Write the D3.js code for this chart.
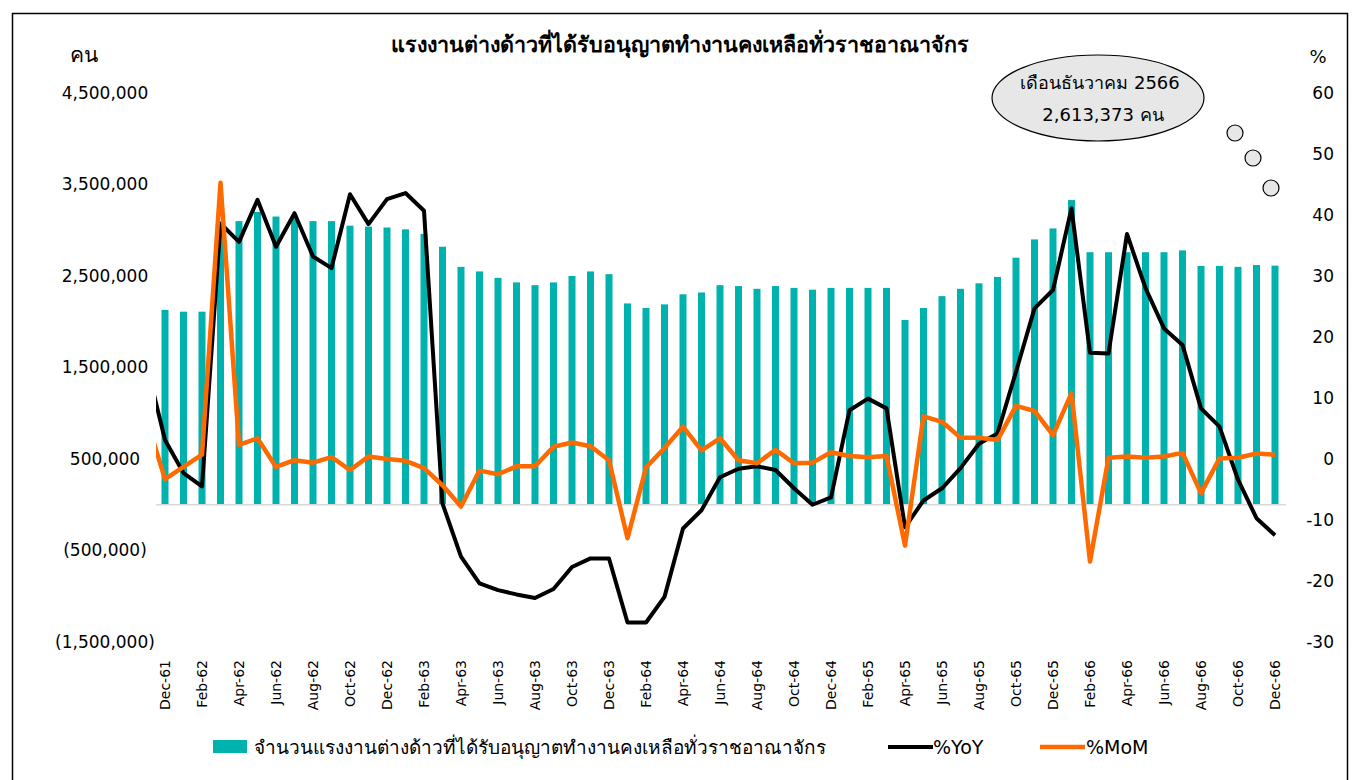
<!DOCTYPE html>
<html>
<head>
<meta charset="utf-8">
<script src="https://cdn.jsdelivr.net/npm/d3@7/dist/d3.min.js"></script>
<style>
  body { margin: 0; background: #fff; }
  text { font-family: Tahoma, "DejaVu Sans", "Noto Sans", sans-serif; fill: #000; }
</style>
</head>
<body>
<svg id="chart" width="1359" height="780"></svg>
<script>
// months Nov-61 .. Dec-66 (Nov-61 sits just outside the plot and is clipped)
var months = ["Nov-61","Dec-61","Jan-62","Feb-62","Mar-62","Apr-62","May-62","Jun-62","Jul-62","Aug-62","Sep-62","Oct-62","Nov-62",
  "Dec-62","Jan-63","Feb-63","Mar-63","Apr-63","May-63","Jun-63","Jul-63","Aug-63","Sep-63","Oct-63","Nov-63",
  "Dec-63","Jan-64","Feb-64","Mar-64","Apr-64","May-64","Jun-64","Jul-64","Aug-64","Sep-64","Oct-64","Nov-64",
  "Dec-64","Jan-65","Feb-65","Mar-65","Apr-65","May-65","Jun-65","Jul-65","Aug-65","Sep-65","Oct-65","Nov-65",
  "Dec-65","Jan-66","Feb-66","Mar-66","Apr-66","May-66","Jun-66","Jul-66","Aug-66","Sep-66","Oct-66","Nov-66","Dec-66"];

// workers (persons)
var workers = [2200000,2130000,2110000,2110000,3070000,3100000,3200000,3150000,3130000,3100000,3100000,3050000,3040000,
  3030000,3010000,2960000,2820000,2600000,2550000,2480000,2430000,2400000,2430000,2500000,2550000,
  2520000,2200000,2150000,2190000,2300000,2320000,2400000,2390000,2360000,2390000,2370000,2350000,
  2370000,2370000,2370000,2370000,2020000,2150000,2280000,2360000,2420000,2490000,2700000,2900000,
  3020000,3330000,2760000,2760000,2760000,2760000,2760000,2780000,2610000,2610000,2600000,2620000,2613373];

// %YoY
var yoy = [15.6,3.1,-2.3,-4.5,38.6,35.6,42.5,34.8,40.3,33.2,31.3,43.4,38.5,
  42.6,43.6,40.7,-7.3,-16.0,-20.4,-21.5,-22.2,-22.8,-21.3,-17.7,-16.3,
  -16.3,-26.8,-26.8,-22.6,-11.4,-8.4,-3.0,-1.6,-1.2,-1.8,-4.8,-7.5,
  -6.3,8.0,9.9,8.3,-11.2,-6.8,-4.8,-1.5,2.5,4.2,14.3,24.7,
  27.7,41.1,17.4,17.3,36.9,28.0,21.4,18.7,8.3,5.3,-3.4,-9.7,-12.5];

// %MoM
var mom = [6.6,-3.3,-1.3,0.7,45.3,2.3,3.4,-1.3,-0.2,-0.6,0.3,-1.8,0.4,
  0.0,-0.3,-1.5,-4.3,-7.8,-1.9,-2.5,-1.2,-1.2,2.0,2.7,2.1,
  -0.2,-13.0,-1.4,1.8,5.3,1.4,3.4,-0.2,-0.7,1.5,-0.7,-0.6,
  1.1,0.5,0.3,0.5,-14.2,7.0,6.1,3.5,3.5,3.1,8.7,7.9,
  3.9,10.8,-16.8,0.2,0.4,0.2,0.4,1.0,-5.6,0.1,0.2,0.9,0.7];

var leftTicks = [4500000,3500000,2500000,1500000,500000,-500000,-1500000];
var rightTicks = [60,50,40,30,20,10,0,-10,-20,-30];

var title = "แรงงานต่างด้าวที่ได้รับอนุญาตทำงานคงเหลือทั่วราชอาณาจักร";
var legendBar = "จำนวนแรงงานต่างด้าวที่ได้รับอนุญาตทำงานคงเหลือทั่วราชอาณาจักร";
var calloutMonth = "เดือนธันวาคม  2566";

var teal = "#00b2ae", orange = "#ff6a00";

var svg = d3.select("#chart");

// outer frame
svg.append("rect").attr("x", 12.5).attr("y", 13.5).attr("width", 1335).attr("height", 780)
  .attr("fill", "none").attr("stroke", "#000").attr("stroke-width", 1.5);

var x = d3.scalePoint().domain(months).range([146.5, 1275]);
var yL = d3.scaleLinear().domain([-1500000, 4500000]).range([642, 93]);
var yR = d3.scaleLinear().domain([-30, 60]).range([642, 93]);

svg.append("clipPath").attr("id", "plot")
  .append("rect").attr("x", 156).attr("y", 60).attr("width", 1130).attr("height", 600);

var plot = svg.append("g").attr("clip-path", "url(#plot)");

// bars
plot.append("g").selectAll("rect")
  .data(workers)
  .enter().append("rect")
  .attr("x", function(d, i) { return x(months[i]) - 3.5; })
  .attr("width", 7)
  .attr("y", function(d) { return yL(d); })
  .attr("height", function(d) { return yL(0) - yL(d); })
  .attr("fill", teal);

// zero line
plot.append("line")
  .attr("x1", 156).attr("x2", 1286)
  .attr("y1", yL(0)).attr("y2", yL(0))
  .attr("stroke", "#d9d9d9").attr("stroke-width", 1.5);

var line = d3.line()
  .x(function(d, i) { return x(months[i]); })
  .y(function(d) { return yR(d); });

plot.append("path").datum(yoy)
  .attr("d", line).attr("fill", "none")
  .attr("stroke", "#000").attr("stroke-width", 4).attr("stroke-linejoin", "round");

plot.append("path").datum(mom)
  .attr("d", line).attr("fill", "none")
  .attr("stroke", orange).attr("stroke-width", 4.5).attr("stroke-linejoin", "round");

// left axis labels
var gl = svg.append("g");
gl.selectAll("text").data(leftTicks).enter().append("text")
  .attr("x", 105).attr("y", function(d) { return yL(d); })
  .attr("dy", "0.35em").attr("text-anchor", "middle")
  .style("font-size", "17px")
  .text(function(d) { return d < 0 ? "(" + d3.format(",")(-d) + ")" : d3.format(",")(d); });
svg.append("text").attr("x", 84).attr("y", 62).attr("text-anchor", "middle")
  .style("font-size", "21px").text("คน");

// right axis labels
var gr = svg.append("g");
gr.selectAll("text").data(rightTicks).enter().append("text")
  .attr("x", 1334).attr("y", function(d) { return yR(d); })
  .attr("dy", "0.35em").attr("text-anchor", "end")
  .style("font-size", "17px")
  .text(function(d) { return d; });
svg.append("text").attr("x", 1318).attr("y", 63).attr("text-anchor", "middle")
  .style("font-size", "18px").text("%");

// x labels (every second month from Dec-61)
svg.append("g").selectAll("text")
  .data(months.filter(function(d, i) { return i % 2 === 1; }))
  .enter().append("text")
  .attr("transform", function(d) { return "translate(" + x(d) + ",660) rotate(-90)"; })
  .attr("dy", "0.35em").attr("text-anchor", "end")
  .style("font-size", "14px")
  .text(function(d) { return d; });

// title
svg.append("text").attr("x", 680).attr("y", 52).attr("text-anchor", "middle")
  .style("font-size", "21.5px").style("font-weight", "bold").text(title);

// callout bubble
svg.append("ellipse").attr("cx", 1098).attr("cy", 98).attr("rx", 106).attr("ry", 43)
  .attr("fill", "#e7e7e7").attr("stroke", "#000").attr("stroke-width", 1.2);
[[1235, 133], [1253, 158], [1271, 188]].forEach(function(c) {
  svg.append("circle").attr("cx", c[0]).attr("cy", c[1]).attr("r", 8)
    .attr("fill", "#e7e7e7").attr("stroke", "#000").attr("stroke-width", 1.2);
});
svg.append("text").attr("x", 1100).attr("y", 89).attr("text-anchor", "middle")
  .style("font-size", "18px").text(calloutMonth);
svg.append("text").attr("x", 1103).attr("y", 121).attr("text-anchor", "middle")
  .style("font-size", "18px").text(d3.format(",")(workers[workers.length - 1]) + " คน");

// legend
var lg = svg.append("g");
lg.append("rect").attr("x", 213).attr("y", 740).attr("width", 34).attr("height", 13).attr("fill", teal);
lg.append("text").attr("x", 254).attr("y", 754).style("font-size", "19px").text(legendBar);
lg.append("line").attr("x1", 888).attr("x2", 933).attr("y1", 747).attr("y2", 747)
  .attr("stroke", "#000").attr("stroke-width", 4);
lg.append("text").attr("x", 933).attr("y", 754).style("font-size", "19px").text("%YoY");
lg.append("line").attr("x1", 1040).attr("x2", 1085).attr("y1", 747).attr("y2", 747)
  .attr("stroke", orange).attr("stroke-width", 4.5);
lg.append("text").attr("x", 1086).attr("y", 754).style("font-size", "19px").text("%MoM");
</script>
</body>
</html>
